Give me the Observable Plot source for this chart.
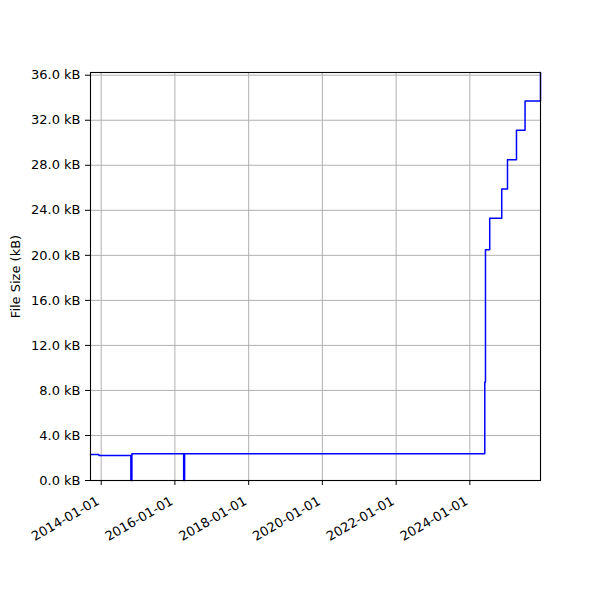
<!DOCTYPE html>
<html>
<head>
<meta charset="utf-8">
<script src="https://cdn.jsdelivr.net/npm/d3@7"></script>
<script src="https://cdn.jsdelivr.net/npm/@observablehq/plot@0.6"></script>
<style>
  html, body { margin: 0; padding: 0; background: white; }
</style>
</head>
<body>
<div id="chart"></div>
<script>
// Dates of each file-size change (step-after)
const dates = [
  "2013-09-17", "2013-12-09", "2014-10-22", "2014-11-01",
  "2016-03-28", "2016-04-06", "2024-05-28", "2024-06-04",
  "2024-07-16", "2024-11-12", "2025-01-08", "2025-04-07",
  "2025-07-01", "2025-12-01"
];
// File size in kB
const sizes = [
  2.31, 2.22, 0, 2.37,
  0, 2.37, 8.74, 20.5,
  23.3, 25.9, 28.5, 31.1,
  33.7, 36.24
];
const yTicks = [0, 4, 8, 12, 16, 20, 24, 28, 32, 36];
const xTickLabels = ["2014-01-01", "2016-01-01", "2018-01-01", "2020-01-01", "2022-01-01", "2024-01-01"];

const data = dates.map((d, i) => ({date: new Date(d), size: sizes[i]}));
const xTicks = xTickLabels.map(s => new Date(s));
const fmt = d3.utcFormat("%Y-%m-%d");

const chart = Plot.plot({
  width: 600,
  height: 600,
  marginLeft: 90,
  marginRight: 60,
  marginTop: 72,
  marginBottom: 120,
  style: {fontFamily: "DejaVu Sans", fontSize: "13px", background: "white", color: "black"},
  x: {type: "utc", domain: [data[0].date, data[data.length - 1].date]},
  y: {domain: [0, d3.max(sizes)]},
  marks: [
    Plot.gridX(xTicks, {stroke: "#b0b0b0", strokeOpacity: 1, strokeWidth: 1}),
    Plot.gridY(yTicks, {stroke: "#b0b0b0", strokeOpacity: 1, strokeWidth: 1}),
    Plot.line(data, {x: "date", y: "size", curve: "step-after", stroke: "#0000ff", strokeWidth: 1.5}),
    Plot.axisX({ticks: xTicks, tickSize: 5, text: null, label: null}),
    Plot.text(xTicks, {x: d => d, text: d => fmt(d), frameAnchor: "bottom", rotate: -30,
      textAnchor: "end", lineAnchor: "bottom", dx: -1, dy: 23, fontSize: 13, fill: "black"}),
    Plot.axisY({ticks: yTicks, tickFormat: d => d.toFixed(1) + " kB", tickSize: 5, tickPadding: 5,
      label: "File Size (kB)", labelAnchor: "center", labelArrow: "none", labelOffset: 80, fontSize: 13}),
    Plot.frame({stroke: "black", strokeWidth: 1.1})
  ]
});
document.getElementById("chart").appendChild(chart);
</script>
</body>
</html>
